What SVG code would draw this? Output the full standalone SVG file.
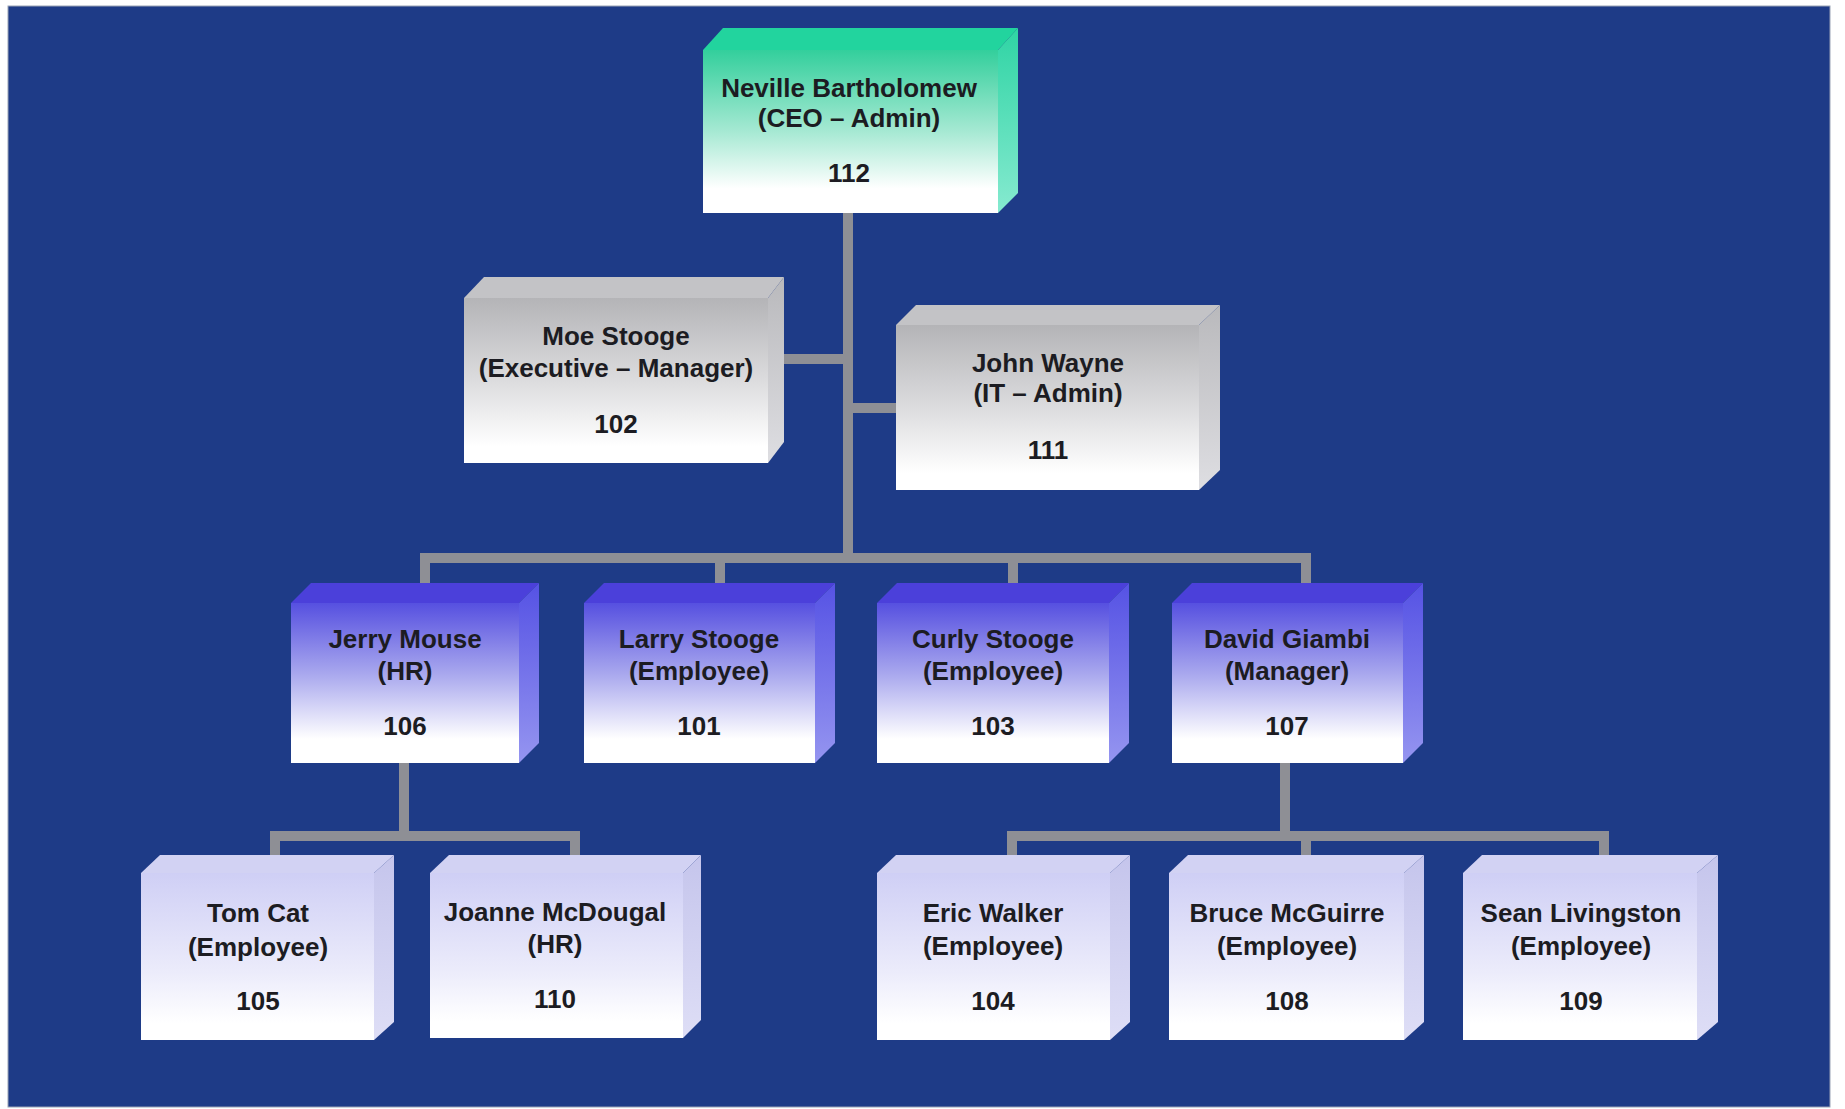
<svg xmlns="http://www.w3.org/2000/svg" width="1845" height="1109" viewBox="0 0 1845 1109">
<style>
.t{font-family:"Liberation Sans",Arial,Helvetica,sans-serif;font-weight:bold;font-size:26px;fill:#1c1c22;text-anchor:middle}
.c{stroke:#8e8f95;stroke-width:10;fill:none;stroke-linecap:butt}
.ceo .top{fill:#22d49e}.ceo .front{fill:url(#gCeo)}.ceo .side{fill:url(#sCeo)}
.gry .top{fill:#c3c3c6}.gry .front{fill:url(#gGry)}.gry .side{fill:url(#sGry)}
.l2 .top{fill:#4b40da}.l2 .front{fill:url(#gL2)}.l2 .side{fill:url(#sL2)}
.l3 .top{fill:#d2d2f3}.l3 .front{fill:url(#gL3)}.l3 .side{fill:url(#sL3)}
</style>
<defs>
<linearGradient id="gCeo" x1="0" y1="0" x2="0" y2="1"><stop offset="0" stop-color="#33cf9c"/><stop offset="0.5" stop-color="#a6e9d3"/><stop offset="0.85" stop-color="#ffffff"/></linearGradient>
<linearGradient id="sCeo" x1="0" y1="0" x2="0" y2="1"><stop offset="0" stop-color="#2fd4a4"/><stop offset="1" stop-color="#86ead0"/></linearGradient>
<linearGradient id="gGry" x1="0" y1="0" x2="0" y2="1"><stop offset="0" stop-color="#b4b4b7"/><stop offset="0.5" stop-color="#dcdcde"/><stop offset="0.9" stop-color="#ffffff"/></linearGradient>
<linearGradient id="sGry" x1="0" y1="0" x2="0" y2="1"><stop offset="0" stop-color="#b9b9bc"/><stop offset="1" stop-color="#dedee2"/></linearGradient>
<linearGradient id="gL2" x1="0" y1="0" x2="0" y2="1"><stop offset="0" stop-color="#5650e0"/><stop offset="0.45" stop-color="#aaa9ee"/><stop offset="0.85" stop-color="#ffffff"/></linearGradient>
<linearGradient id="sL2" x1="0" y1="0" x2="0" y2="1"><stop offset="0" stop-color="#5552e4"/><stop offset="1" stop-color="#9595f0"/></linearGradient>
<linearGradient id="gL3" x1="0" y1="0" x2="0" y2="1"><stop offset="0" stop-color="#cfcff5"/><stop offset="0.6" stop-color="#ececfb"/><stop offset="0.9" stop-color="#ffffff"/></linearGradient>
<linearGradient id="sL3" x1="0" y1="0" x2="0" y2="1"><stop offset="0" stop-color="#c5c5ec"/><stop offset="1" stop-color="#dedef6"/></linearGradient>
</defs>
<rect x="0" y="0" width="1845" height="1109" fill="#ffffff"/>
<rect x="8" y="6" width="1822" height="1101" fill="#1e3b87" stroke="#9aa3b6" stroke-width="1"/>

<g id="connectors">
<path class="c" d="M848 213 V558"/>
<path class="c" d="M783 359 H848"/>
<path class="c" d="M848 408 H896"/>
<path class="c" d="M425 583 V558 H1306 V583"/>
<path class="c" d="M720 558 V583"/>
<path class="c" d="M1013 558 V583"/>
<path class="c" d="M404 763 V836"/>
<path class="c" d="M275 855 V836 H575 V855"/>
<path class="c" d="M1285 763 V836"/>
<path class="c" d="M1012 855 V836 H1604 V855"/>
<path class="c" d="M1306 836 V855"/>
</g>

<g id="n112" class="ceo">
<polygon class="top" points="703,50 723,28 1018,28 998,50"/>
<polygon class="side" points="998,50 1018,28 1018,193 998,213"/>
<rect class="front" x="703" y="50" width="295" height="163"/>
<text class="t" x="849" y="97">Neville Bartholomew</text>
<text class="t" x="849" y="127">(CEO – Admin)</text>
<text class="t" x="849" y="182">112</text>
</g>

<g id="n102" class="gry">
<polygon class="top" points="464,298 484,277 784,277 768,298"/>
<polygon class="side" points="768,298 784,277 784,442 768,463"/>
<rect class="front" x="464" y="298" width="304" height="165"/>
<text class="t" x="616" y="345">Moe Stooge</text>
<text class="t" x="616" y="377">(Executive – Manager)</text>
<text class="t" x="616" y="433">102</text>
</g>

<g id="n111" class="gry">
<polygon class="top" points="896,325 916,305 1220,305 1199,325"/>
<polygon class="side" points="1199,325 1220,305 1220,470 1199,490"/>
<rect class="front" x="896" y="325" width="303" height="165"/>
<text class="t" x="1048" y="372">John Wayne</text>
<text class="t" x="1048" y="402">(IT – Admin)</text>
<text class="t" x="1048" y="459">111</text>
</g>

<g id="n106" class="l2">
<polygon class="top" points="291,603 311,583 539,583 519,603"/>
<polygon class="side" points="519,603 539,583 539,743 519,763"/>
<rect class="front" x="291" y="603" width="228" height="160"/>
<text class="t" x="405" y="648">Jerry Mouse</text>
<text class="t" x="405" y="680">(HR)</text>
<text class="t" x="405" y="735">106</text>
</g>

<g id="n101" class="l2">
<polygon class="top" points="584,603 604,583 835,583 815,603"/>
<polygon class="side" points="815,603 835,583 835,743 815,763"/>
<rect class="front" x="584" y="603" width="231" height="160"/>
<text class="t" x="699" y="648">Larry Stooge</text>
<text class="t" x="699" y="680">(Employee)</text>
<text class="t" x="699" y="735">101</text>
</g>

<g id="n103" class="l2">
<polygon class="top" points="877,603 897,583 1129,583 1109,603"/>
<polygon class="side" points="1109,603 1129,583 1129,743 1109,763"/>
<rect class="front" x="877" y="603" width="232" height="160"/>
<text class="t" x="993" y="648">Curly Stooge</text>
<text class="t" x="993" y="680">(Employee)</text>
<text class="t" x="993" y="735">103</text>
</g>

<g id="n107" class="l2">
<polygon class="top" points="1172,603 1192,583 1423,583 1403,603"/>
<polygon class="side" points="1403,603 1423,583 1423,743 1403,763"/>
<rect class="front" x="1172" y="603" width="231" height="160"/>
<text class="t" x="1287" y="648">David Giambi</text>
<text class="t" x="1287" y="680">(Manager)</text>
<text class="t" x="1287" y="735">107</text>
</g>

<g id="n105" class="l3">
<polygon class="top" points="141,873 160,855 394,855 374,873"/>
<polygon class="side" points="374,873 394,855 394,1022 374,1040"/>
<rect class="front" x="141" y="873" width="233" height="167"/>
<text class="t" x="258" y="922">Tom Cat</text>
<text class="t" x="258" y="956">(Employee)</text>
<text class="t" x="258" y="1010">105</text>
</g>

<g id="n110" class="l3">
<polygon class="top" points="430,873 449,855 701,855 683,873"/>
<polygon class="side" points="683,873 701,855 701,1020 683,1038"/>
<rect class="front" x="430" y="873" width="253" height="165"/>
<text class="t" x="555" y="921">Joanne McDougal</text>
<text class="t" x="555" y="953">(HR)</text>
<text class="t" x="555" y="1008">110</text>
</g>

<g id="n104" class="l3">
<polygon class="top" points="877,873 896,855 1130,855 1110,873"/>
<polygon class="side" points="1110,873 1130,855 1130,1022 1110,1040"/>
<rect class="front" x="877" y="873" width="233" height="167"/>
<text class="t" x="993" y="922">Eric Walker</text>
<text class="t" x="993" y="955">(Employee)</text>
<text class="t" x="993" y="1010">104</text>
</g>

<g id="n108" class="l3">
<polygon class="top" points="1169,873 1188,855 1424,855 1404,873"/>
<polygon class="side" points="1404,873 1424,855 1424,1022 1404,1040"/>
<rect class="front" x="1169" y="873" width="235" height="167"/>
<text class="t" x="1287" y="922">Bruce McGuirre</text>
<text class="t" x="1287" y="955">(Employee)</text>
<text class="t" x="1287" y="1010">108</text>
</g>

<g id="n109" class="l3">
<polygon class="top" points="1463,873 1482,855 1718,855 1697,873"/>
<polygon class="side" points="1697,873 1718,855 1718,1022 1697,1040"/>
<rect class="front" x="1463" y="873" width="234" height="167"/>
<text class="t" x="1581" y="922">Sean Livingston</text>
<text class="t" x="1581" y="955">(Employee)</text>
<text class="t" x="1581" y="1010">109</text>
</g>
</svg>
